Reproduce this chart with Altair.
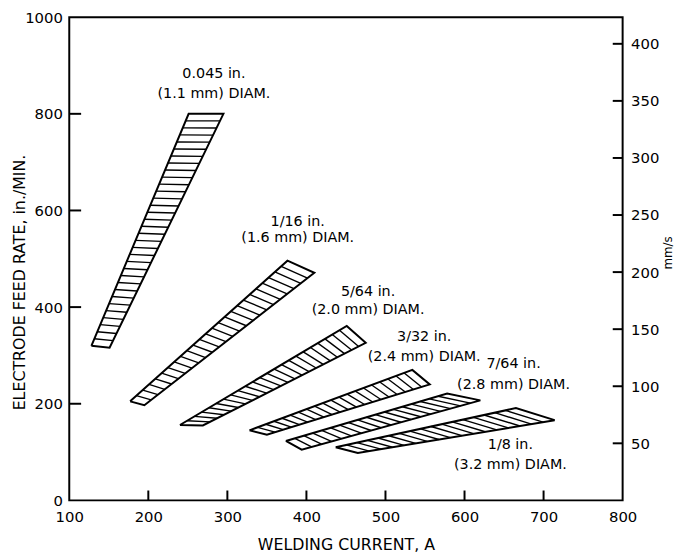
import altair as alt
import pandas as pd

# ---- data ----
bands = ["0.045 in.", "1/16 in.", "5/64 in.", "3/32 in.", "7/64 in.", "1/8 in."]
diam = ["(1.1 mm) DIAM.", "(1.6 mm) DIAM.", "(2.0 mm) DIAM.",
        "(2.4 mm) DIAM.", "(2.8 mm) DIAM.", "(3.2 mm) DIAM."]

# band corners (welding current A, feed rate in./min)
low_left_x = [128, 177, 240, 328, 374, 437]
low_left_y = [320, 205, 156, 145, 123, 110]
low_right_x = [151, 195, 269, 350, 394, 465]
low_right_y = [316, 197, 155, 136, 105, 98]
high_right_x = [295, 410, 475, 556, 620, 714]
high_right_y = [800, 471, 326, 240, 207, 166]
high_left_x = [251, 376, 451, 534, 578, 665]
high_left_y = [800, 496, 361, 270, 221, 191]

# label positions
label_x = [283, 389, 478, 549, 662, 658]
label_y1 = [883, 576, 432, 338, 283, 115]
label_y2 = [840, 543, 393, 297, 238, 74]

x_ticks = [100, 200, 300, 400, 500, 600, 700, 800]
y_ticks = [0, 200, 400, 600, 800, 1000]
mm_ticks = [50, 100, 150, 200, 250, 300, 350, 400]

# hatch style (number of hatch strokes per band)
hatch_count = [32, 24, 22, 19, 17, 16]

# ---- tables ----
rows = []
for i, b in enumerate(bands):
    pts = [(low_left_x[i], low_left_y[i]), (low_right_x[i], low_right_y[i]),
           (high_right_x[i], high_right_y[i]), (high_left_x[i], high_left_y[i]),
           (low_left_x[i], low_left_y[i])]
    for k, (x, y) in enumerate(pts):
        rows.append({"band": b, "k": k, "x": x, "y": y})
outline_df = pd.DataFrame(rows)

hrows = []
for i, b in enumerate(bands):
    n = hatch_count[i]
    for j in range(1, n + 1):
        t = j / (n + 1)
        ux = low_left_x[i] + t * (high_left_x[i] - low_left_x[i])
        uy = low_left_y[i] + t * (high_left_y[i] - low_left_y[i])
        lx = low_right_x[i] + t * (high_right_x[i] - low_right_x[i])
        ly = low_right_y[i] + t * (high_right_y[i] - low_right_y[i])
        hrows.append({"band": b, "x": ux, "y": uy, "x2": lx, "y2": ly})
hatch_df = pd.DataFrame(hrows)

label_df = pd.DataFrame(
    [{"x": label_x[i], "y": label_y1[i], "t": bands[i]} for i in range(6)]
    + [{"x": label_x[i], "y": label_y2[i], "t": diam[i]} for i in range(6)]
)

FONT = "DejaVu Sans"
xs = alt.Scale(domain=[100, 800], nice=False, zero=False, padding=0)
ys = alt.Scale(domain=[0, 1000], nice=False, padding=0)
ys2 = alt.Scale(domain=[0, 1000 * 25.4 / 60], nice=False, padding=0)

x_axis = alt.Axis(values=x_ticks, format="d", tickSize=0, domain=False, grid=False,
                  labelFlush=False,
                  labelPadding=9, labelFontSize=15, labelFont=FONT, labelColor="black",
                  title="WELDING CURRENT, A", titleFont=FONT, titleFontSize=16,
                  titleFontWeight="normal", titleColor="black",
                  titleBaseline="middle", titleY=45)
y_axis = alt.Axis(values=y_ticks, format="d", tickSize=0, domain=False, grid=False,
                  labelPadding=7, labelFontSize=15, labelFont=FONT, labelColor="black",
                  title="ELECTRODE FEED RATE, in./MIN.", titleFont=FONT, titleFontSize=16,
                  titleFontWeight="normal", titleColor="black", titleAngle=270,
                  titleAlign="center", titleBaseline="middle", titleX=-50, titleY=268)
r_axis = alt.Axis(orient="right", values=mm_ticks, format="d", tickSize=0, domain=False,
                  grid=False, labelPadding=8, labelFontSize=15, labelFont=FONT,
                  labelColor="black",
                  title="mm/s", titleFont=FONT, titleFontSize=12,
                  titleFontWeight="normal", titleColor="black", titleAngle=270,
                  titleAlign="center", titleBaseline="middle", titleX=45, titleY=238)

X = lambda f: alt.X(f, scale=xs, axis=x_axis)
Y = lambda f: alt.Y(f, scale=ys, axis=y_axis)

outline = alt.Chart(outline_df).mark_line(
    color="black", strokeWidth=2, strokeJoin="miter"
).encode(x=X("x:Q"), y=Y("y:Q"), detail="band:N", order="k:Q")

hatch = alt.Chart(hatch_df).mark_rule(color="black", strokeWidth=1.4).encode(
    x=X("x:Q"), y=Y("y:Q"), x2="x2:Q", y2="y2:Q"
)

labels = alt.Chart(label_df).mark_text(
    font=FONT, fontSize=14.5, color="black", align="center", baseline="middle"
).encode(x=X("x:Q"), y=Y("y:Q"), text="t:N")

lticks = alt.Chart(pd.DataFrame({"v": y_ticks[1:-1]})).mark_rule(
    color="black", strokeWidth=2
).encode(y=Y("v:Q"), x=alt.value(0), x2=alt.value(12))

bticks = alt.Chart(pd.DataFrame({"v": x_ticks[1:-1]})).mark_rule(
    color="black", strokeWidth=2
).encode(x=X("v:Q"), y=alt.value(489), y2=alt.value(479))

rticks = alt.Chart(pd.DataFrame({"v": mm_ticks})).mark_rule(
    color="black", strokeWidth=2
).encode(y=alt.Y("v:Q", scale=ys2, axis=r_axis), x=alt.value(550), x2=alt.value(560))

left = alt.layer(outline, hatch, labels, lticks, bticks)
chart = alt.layer(left, rticks).resolve_scale(y="independent").properties(
    width=560, height=489,
    autosize=alt.AutoSizeParams(type="none"),
    padding={"left": 62, "top": 6, "right": 53, "bottom": 54},
).configure_view(stroke="black", strokeWidth=2)

chart.save("out.html", embed_options={"renderer": "svg", "actions": False})
